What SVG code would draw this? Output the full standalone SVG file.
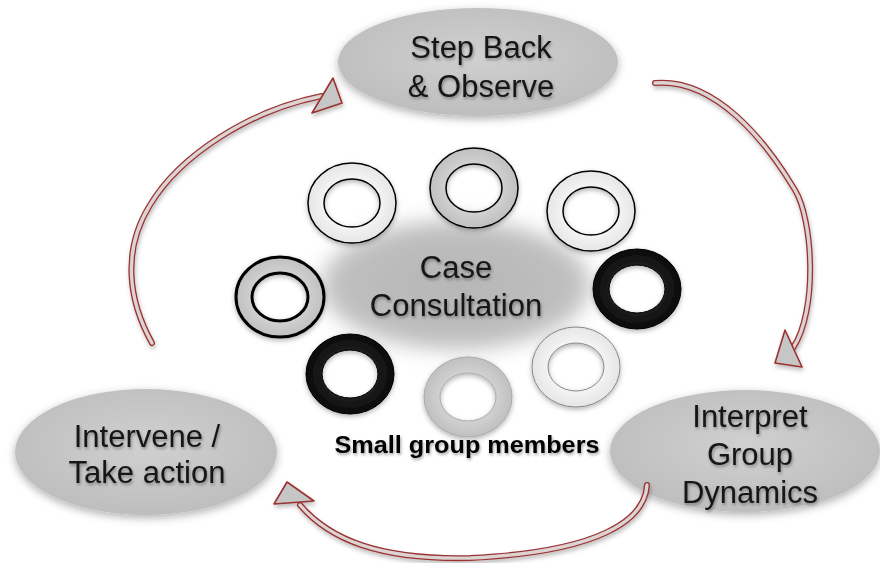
<svg xmlns="http://www.w3.org/2000/svg" xmlns:xlink="http://www.w3.org/1999/xlink" width="880" height="563" viewBox="0 0 880 563">
<defs>
  <style>
    .lbl{font-family:"Liberation Sans",Arial,sans-serif;font-size:31px;fill:#151515;text-anchor:middle}
    .small{font-family:"Liberation Sans",Arial,sans-serif;font-size:23px;font-weight:bold;fill:#000;text-anchor:middle}
    .node{fill:url(#nodeGrad);filter:url(#shadow)}
    .ring{fill-rule:evenodd;filter:url(#ringShadow)}
    .band-out{fill:none;stroke:#9a3232;stroke-width:6;stroke-linecap:round}
    .band-in{fill:none;stroke:#dcd3d3;stroke-width:3.4;stroke-linecap:round}
    .head{fill:#c6c6c6;stroke:#9a3232;stroke-width:1.6;stroke-linejoin:round}
  </style>
  <radialGradient id="nodeGrad" cx="50%" cy="45%" r="55%">
    <stop offset="0" stop-color="#d0d0d0"/>
    <stop offset="1" stop-color="#bebebe"/>
  </radialGradient>
  <radialGradient id="caseGrad" cx="50%" cy="50%" r="50%">
    <stop offset="0" stop-color="#b6b6b6"/>
    <stop offset="0.75" stop-color="#bdbdbd"/>
    <stop offset="1" stop-color="#c6c6c6"/>
  </radialGradient>
  <radialGradient id="whiteGrad" cx="50%" cy="50%" r="50%">
    <stop offset="0.5" stop-color="#f8f8f8"/>
    <stop offset="1" stop-color="#e6e6e6"/>
  </radialGradient>
  <radialGradient id="grayGrad" cx="50%" cy="50%" r="50%">
    <stop offset="0.5" stop-color="#d6d6d6"/>
    <stop offset="1" stop-color="#c0c0c0"/>
  </radialGradient>
  <radialGradient id="blackGrad" cx="50%" cy="50%" r="50%">
    <stop offset="0.5" stop-color="#222"/>
    <stop offset="1" stop-color="#0a0a0a"/>
  </radialGradient>
  <filter id="shadow" x="-20%" y="-20%" width="140%" height="150%">
    <feDropShadow dx="0" dy="3" stdDeviation="4" flood-color="#000" flood-opacity="0.3"/>
  </filter>
  <filter id="ringShadow" x="-20%" y="-20%" width="140%" height="150%">
    <feDropShadow dx="0" dy="2" stdDeviation="2.5" flood-color="#000" flood-opacity="0.3"/>
  </filter>
  <filter id="blur" x="-30%" y="-40%" width="160%" height="180%">
    <feGaussianBlur stdDeviation="10"/>
  </filter>
  <filter id="textShadow" x="-10%" y="-20%" width="120%" height="150%">
    <feDropShadow dx="1" dy="2" stdDeviation="1.5" flood-color="#000" flood-opacity="0.35"/>
  </filter>
  <filter id="arrowShadow" x="-20%" y="-20%" width="140%" height="140%">
    <feDropShadow dx="1" dy="3" stdDeviation="2" flood-color="#000" flood-opacity="0.25"/>
  </filter>
  <path id="ringShape" d="M-44,0 a44,40 0 1,0 88,0 a44,40 0 1,0 -88,0 Z M-28,0 a28,24 0 1,0 56,0 a28,24 0 1,0 -56,0 Z"/>
</defs>
<rect width="880" height="563" fill="#ffffff"/>

<g id="case-consultation">
  <ellipse cx="456" cy="285" rx="135" ry="65" fill="url(#caseGrad)" filter="url(#blur)"/>
  <text class="lbl" x="456" y="278" filter="url(#textShadow)">Case</text>
  <text class="lbl" x="456" y="316" filter="url(#textShadow)">Consultation</text>
</g>

<g id="members">
  <use xlink:href="#ringShape" class="ring" transform="translate(352,203)" fill="url(#whiteGrad)" stroke="#000" stroke-width="1.5"/>
  <use xlink:href="#ringShape" class="ring" transform="translate(474,188)" fill="url(#grayGrad)" stroke="#000" stroke-width="1.5"/>
  <use xlink:href="#ringShape" class="ring" transform="translate(591,211)" fill="url(#whiteGrad)" stroke="#000" stroke-width="1.5"/>
  <use xlink:href="#ringShape" class="ring" transform="translate(280,297)" fill="url(#grayGrad)" stroke="#000" stroke-width="3"/>
  <use xlink:href="#ringShape" class="ring" transform="translate(637,289)" fill="url(#blackGrad)" stroke="#000" stroke-width="1"/>
  <use xlink:href="#ringShape" class="ring" transform="translate(350,374)" fill="url(#blackGrad)" stroke="#000" stroke-width="1"/>
  <use xlink:href="#ringShape" class="ring" transform="translate(468,397)" fill="url(#grayGrad)" stroke="#aaa" stroke-width="1"/>
  <use xlink:href="#ringShape" class="ring" transform="translate(576,367)" fill="url(#whiteGrad)" stroke="#888" stroke-width="1"/>
  <text class="small" x="467" y="453" textLength="265" lengthAdjust="spacingAndGlyphs" filter="url(#textShadow)">Small group members</text>
</g>

<g id="step-back">
  <ellipse class="node" cx="478" cy="62" rx="140" ry="54"/>
  <text class="lbl" x="481" y="58" filter="url(#textShadow)">Step Back</text>
  <text class="lbl" x="481" y="97" filter="url(#textShadow)">&amp; Observe</text>
</g>

<g id="interpret">
  <ellipse class="node" cx="745" cy="451" rx="135" ry="61"/>
  <text class="lbl" x="750" y="427" filter="url(#textShadow)">Interpret</text>
  <text class="lbl" x="750" y="465" filter="url(#textShadow)">Group</text>
  <text class="lbl" x="750" y="503" filter="url(#textShadow)">Dynamics</text>
</g>

<g id="intervene">
  <ellipse class="node" cx="146" cy="452" rx="131" ry="63"/>
  <text class="lbl" x="147" y="447" filter="url(#textShadow)">Intervene /</text>
  <text class="lbl" x="147" y="483" filter="url(#textShadow)">Take action</text>
</g>

<g id="connectors" filter="url(#arrowShadow)">
  <g id="arrow-intervene-stepback">
    <path class="band-out" d="M152,343 C128,300 122,250 150,205 C180,155 250,110 322,96"/>
    <path class="band-in" d="M152,343 C128,300 122,250 150,205 C180,155 250,110 322,96"/>
    <polygon class="head" points="312,113 333,78 342,103"/>
  </g>
  <g id="arrow-stepback-interpret">
    <path class="band-out" d="M655,83 C715,78 765,140 795,190 C813,220 818,310 793,348"/>
    <path class="band-in" d="M655,83 C715,78 765,140 795,190 C813,220 818,310 793,348"/>
    <polygon class="head" points="785,330 802,367 775,363"/>
  </g>
  <g id="arrow-interpret-intervene">
    <path class="band-out" d="M647,485 C645,520 600,552 470,558 C380,560 330,540 300,505"/>
    <path class="band-in" d="M647,485 C645,520 600,552 470,558 C380,560 330,540 300,505"/>
    <polygon class="head" points="274,504 287,482 314,501"/>
  </g>
</g>
</svg>
